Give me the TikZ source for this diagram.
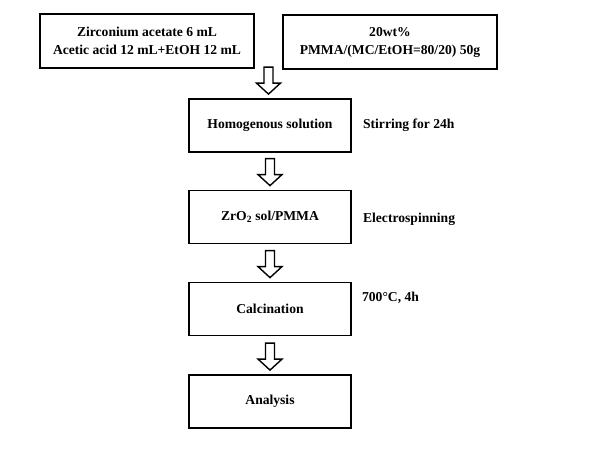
\documentclass[tikz,border=0pt]{standalone}
\usepackage{fontspec}
\setmainfont{Liberation Serif}
\usetikzlibrary{calc}

% hollow block arrow pointing down into node #2, lined up under #1
\newcommand{\flowarrow}[2]{%
  \draw[hollow] ($(#1 |- #2.north)+(-4.5,31)$) -- ($(#1 |- #2.north)+(-4.5,15)$)
    -- ($(#1 |- #2.north)+(-12,15)$) -- ($(#1 |- #2.north)+(0,4)$)
    -- ($(#1 |- #2.north)+(12,15)$) -- ($(#1 |- #2.north)+(4.5,15)$)
    -- ($(#1 |- #2.north)+(4.5,31)$) -- cycle;}

\begin{document}
\begin{tikzpicture}[
    x=1pt, y=1pt,
    box/.style={rectangle, draw, line width=1.8pt, minimum width=162pt, minimum height=53pt, align=center, inner sep=2pt, font=\bfseries\fontsize{13.6}{18}\selectfont},
    wide/.style={box, minimum width=214pt, minimum height=54pt},
    note/.style={anchor=west, inner sep=0pt, font=\bfseries\fontsize{13.6}{18}\selectfont},
    hollow/.style={draw, line width=1.4pt, line join=miter, fill=white}
]
\useasboundingbox (0,0) rectangle (600,-450);

% Starting materials
\node[wide] (zrsol) at (147,-41) {Zirconium acetate 6 mL\\Acetic acid 12 mL+EtOH 12 mL};
\node[wide] (pmma) at (390,-42) {20wt\%\\PMMA/(MC/EtOH=80/20) 50g};

% Process steps
\node[box] (homog) at (270,-125.5) {Homogenous solution};
\node[box] (zrpmma) at (270,-217) {ZrO\textsubscript{2} sol/PMMA};
\node[box] (calcin) at (270,-309) {Calcination};
\node[box] (analysis) at (270,-401.5) {Analysis};

% Conditions
\node[note] (stir) at ($(homog.east)+(11,0)$) {Stirring for 24h};
\node[note] (spin) at ($(zrpmma.east)+(11,-2)$) {Electrospinning};
\node[note] (heat) at ($(calcin.east)+(10,11)$) {700°C, 4h};

% Arrows
\coordinate (mix) at ($(zrsol.south east)!0.5!(pmma.south west)$);
\flowarrow{mix}{homog}
\flowarrow{homog.south}{zrpmma}
\flowarrow{zrpmma.south}{calcin}
\flowarrow{calcin.south}{analysis}

\end{tikzpicture}
\end{document}
